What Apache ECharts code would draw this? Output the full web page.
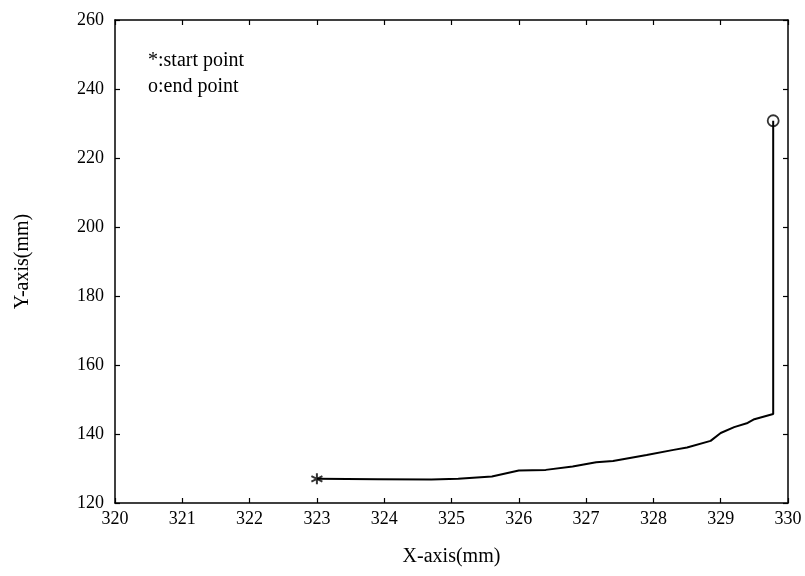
<!DOCTYPE html>
<html>
<head>
<meta charset="utf-8">
<script src="https://cdn.jsdelivr.net/npm/echarts@6/dist/echarts.min.js"></script>
<style>
  html, body { margin: 0; padding: 0; background: #fff; }
  #main { width: 805px; height: 576px; }
</style>
</head>
<body>
<div id="main"></div>
<script>
// path of the tool (mm)
var pathX = [323.0, 323.9, 324.7, 325.1, 325.6, 326.0, 326.4, 326.8, 327.15, 327.4, 327.9, 328.3, 328.5, 328.85, 329.0, 329.2, 329.4, 329.5, 329.78, 329.78];
var pathY = [127.0, 126.9, 126.8, 127.0, 127.7, 129.4, 129.6, 130.6, 131.8, 132.2, 133.9, 135.4, 136.1, 138.0, 140.3, 142.0, 143.2, 144.3, 145.8, 230.8];
var startPoint = [323.0, 127.0];
var endPoint = [329.78, 230.8];
var xTicks = [320, 330, 1];   // min, max, step
var yTicks = [120, 260, 20];

var font = 'Liberation Serif';
var black = '#000';

var pathData = [];
for (var i = 0; i < pathX.length; i++) {
  pathData.push([pathX[i], pathY[i]]);
}

var myChart = echarts.init(document.getElementById('main'));

var axisCommon = {
  type: 'value',
  splitLine: { show: false },
  axisLine: { show: true, onZero: false, lineStyle: { color: black, width: 1.5 } },
  axisTick: { show: true, inside: true, length: 5, lineStyle: { color: black, width: 1.2 } }
};

myChart.setOption({
  animation: false,
  grid: { left: 115, right: 17, top: 20, bottom: 73 },
  xAxis: [
    Object.assign({}, axisCommon, {
      min: xTicks[0], max: xTicks[1], interval: xTicks[2],
      position: 'bottom',
      name: 'X-axis(mm)', nameLocation: 'middle', nameGap: 44,
      nameTextStyle: { fontFamily: font, fontSize: 20, color: black },
      axisLabel: { fontFamily: font, fontSize: 18, color: black, margin: 7 }
    }),
    Object.assign({}, axisCommon, {
      min: xTicks[0], max: xTicks[1], interval: xTicks[2],
      position: 'top',
      axisLabel: { show: false }
    })
  ],
  yAxis: [
    Object.assign({}, axisCommon, {
      min: yTicks[0], max: yTicks[1], interval: yTicks[2],
      position: 'left',
      name: 'Y-axis(mm)', nameLocation: 'middle', nameGap: 82,
      nameTextStyle: { fontFamily: font, fontSize: 20, color: black },
      axisLabel: { fontFamily: font, fontSize: 18, color: black, margin: 11 }
    }),
    Object.assign({}, axisCommon, {
      min: yTicks[0], max: yTicks[1], interval: yTicks[2],
      position: 'right',
      axisLabel: { show: false }
    })
  ],
  series: [
    {
      type: 'line',
      data: pathData,
      symbol: 'none',
      lineStyle: { color: black, width: 2 }
    },
    {
      // start point marker (*)
      type: 'scatter',
      data: [startPoint],
      symbol: 'path://M0,-10L0,10M-8.66,-5L8.66,5M-8.66,5L8.66,-5',
      symbolSize: 11,
      itemStyle: { color: 'none', borderColor: black, borderWidth: 2 }
    },
    {
      // end point marker (o)
      type: 'scatter',
      data: [endPoint],
      symbol: 'circle',
      symbolSize: 11,
      itemStyle: { color: '#fff', borderColor: black, borderWidth: 1.8 }
    }
  ],
  graphic: [
    {
      type: 'text', left: 148, top: 51,
      style: { text: '*:start point', font: '20px "Liberation Serif"', fill: black }
    },
    {
      type: 'text', left: 148, top: 77,
      style: { text: 'o:end point', font: '20px "Liberation Serif"', fill: black }
    }
  ]
});
</script>
</body>
</html>
